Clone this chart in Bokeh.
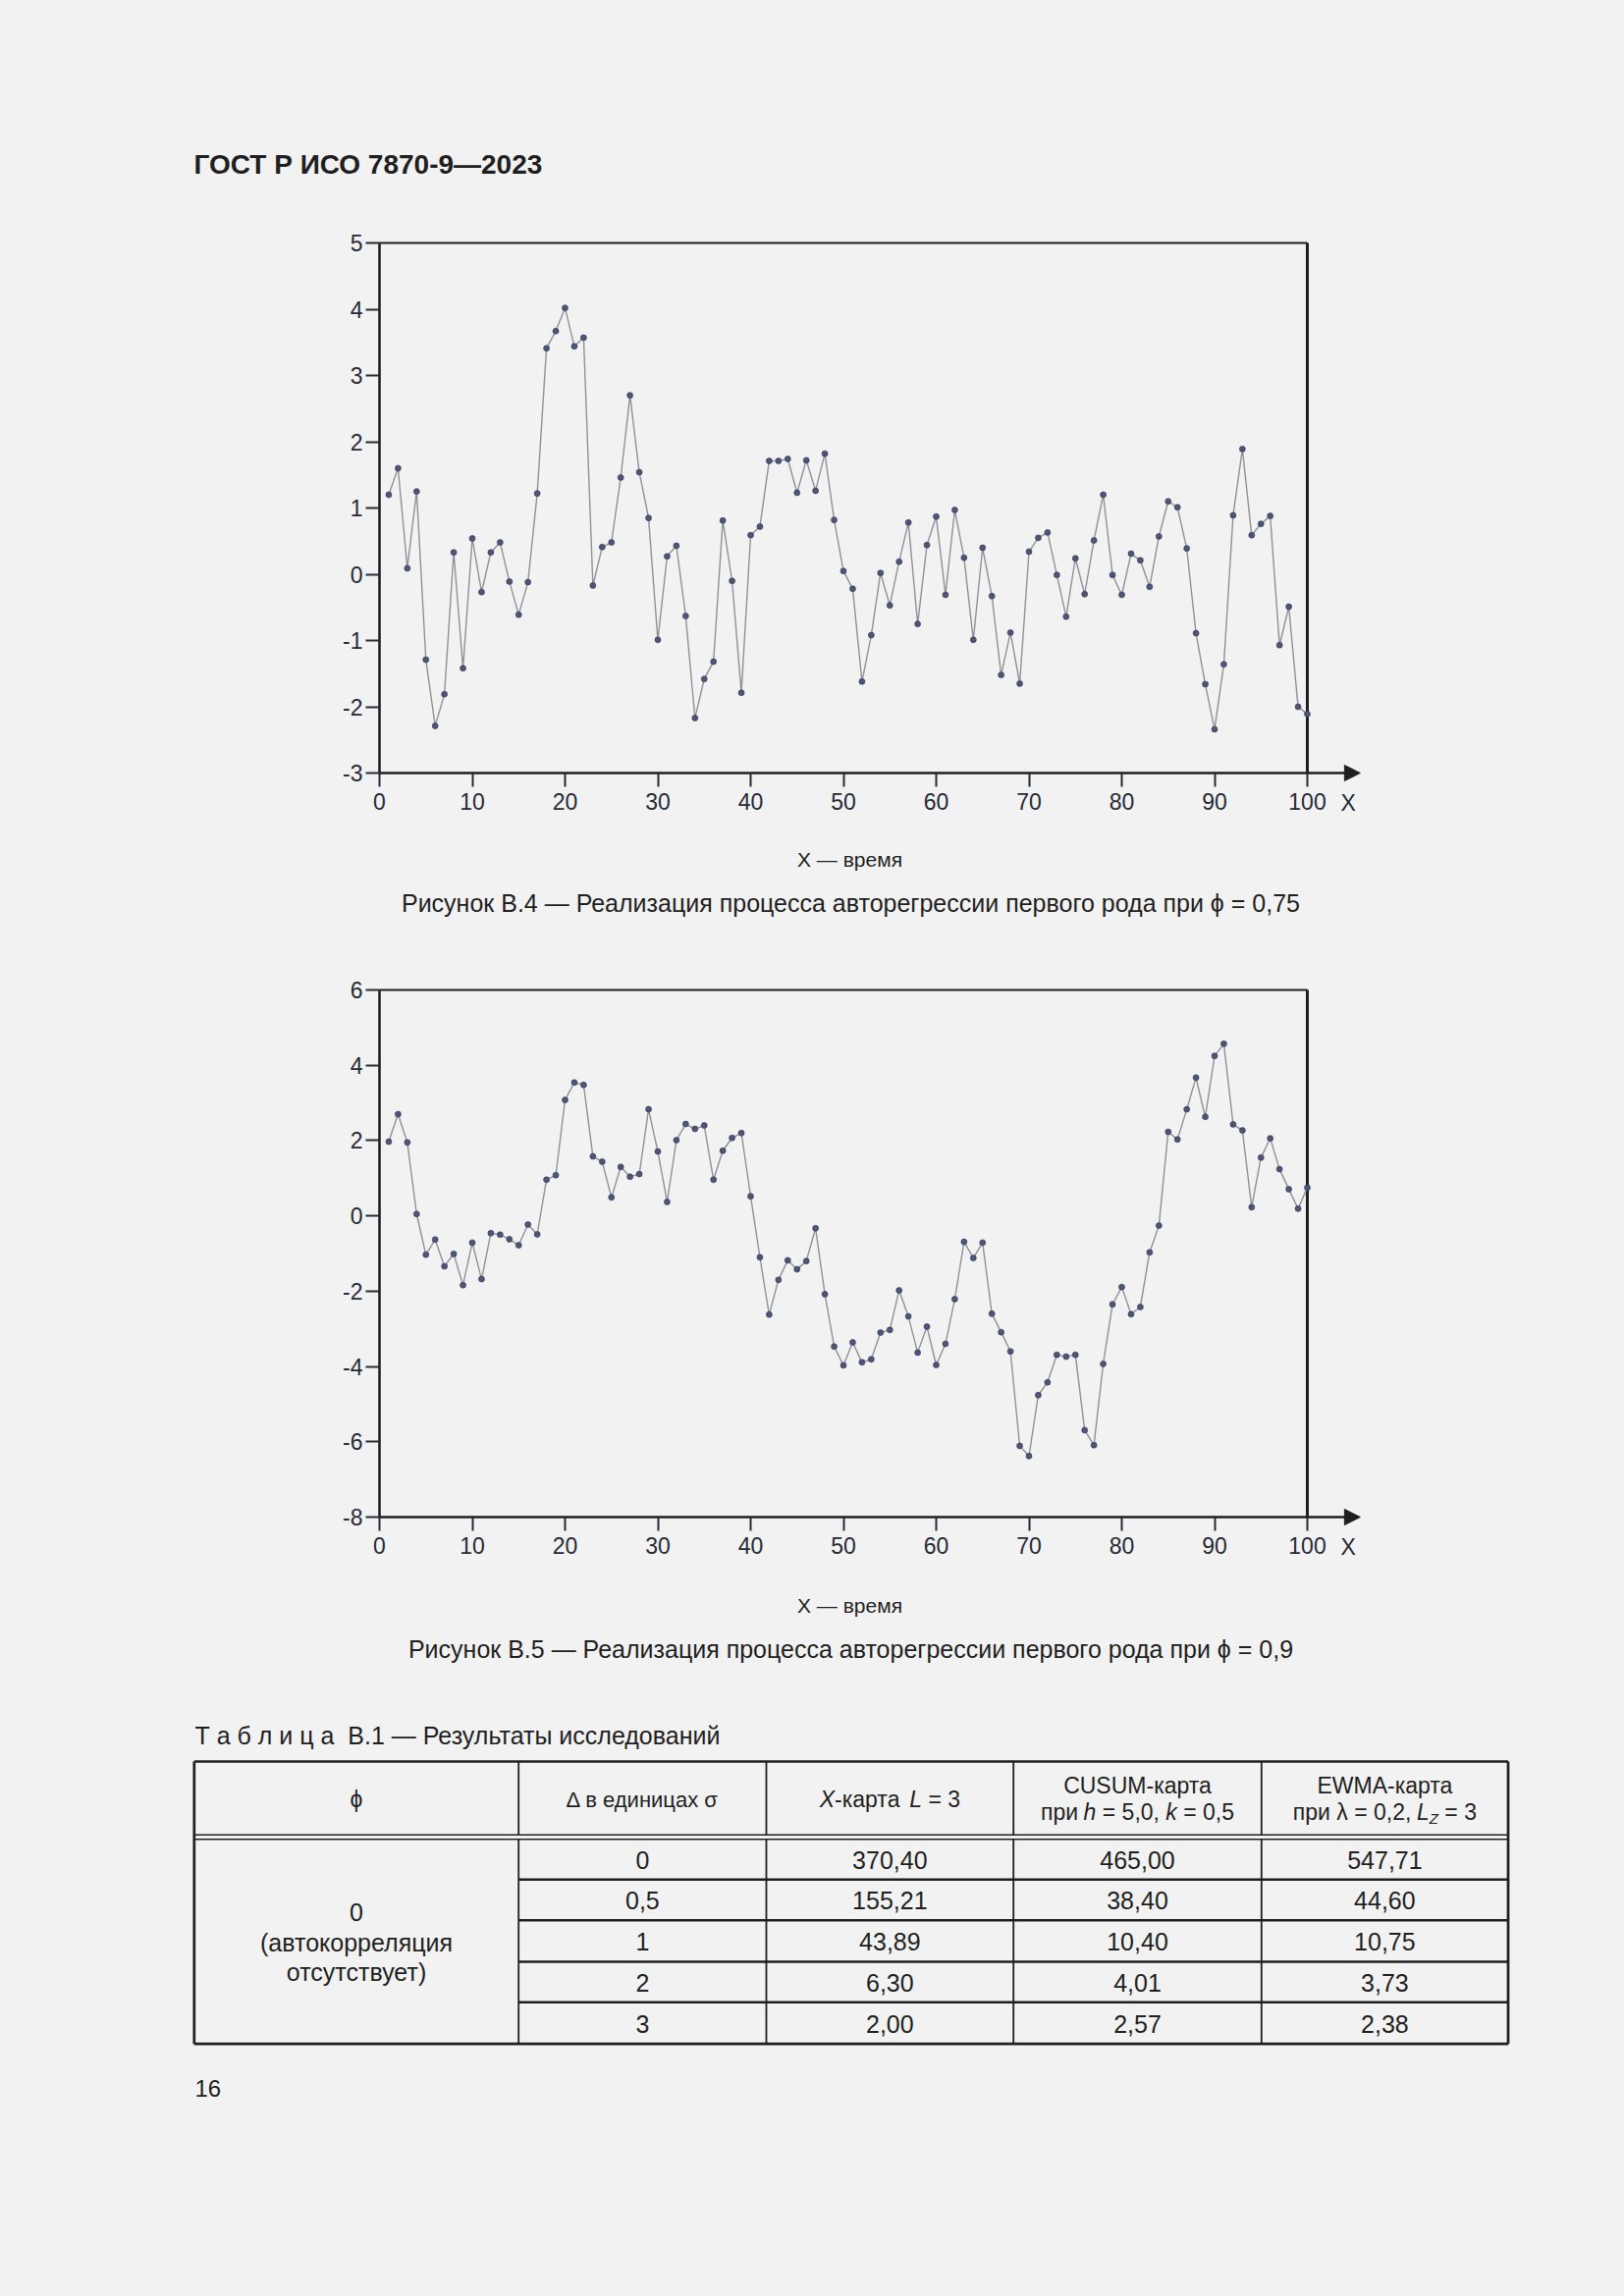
from bokeh.plotting import figure
from bokeh.models import Range1d, FixedTicker, Arrow, NormalHead, Label, LinearAxis
from bokeh.core.properties import value
from bokeh.embed import file_html
from bokeh.resources import INLINE

# ---------------- data ----------------
t_b4 = list(range(1, 101))
ar_075 = [1.20, 1.60, 0.09, 1.25, -1.29, -2.29, -1.81, 0.33, -1.42, 0.54,
          -0.27, 0.33, 0.48, -0.11, -0.61, -0.12, 1.22, 3.41, 3.67, 4.02,
          3.44, 3.57, -0.17, 0.41, 0.48, 1.46, 2.70, 1.54, 0.85, -0.99,
          0.27, 0.43, -0.63, -2.17, -1.58, -1.32, 0.81, -0.10, -1.79, 0.59,
          0.72, 1.71, 1.71, 1.74, 1.23, 1.72, 1.26, 1.82, 0.82, 0.05,
          -0.22, -1.62, -0.92, 0.02, -0.47, 0.19, 0.78, -0.75, 0.44, 0.87,
          -0.31, 0.97, 0.25, -0.99, 0.40, -0.33, -1.52, -0.88, -1.65, 0.34,
          0.55, 0.63, -0.01, -0.64, 0.24, -0.30, 0.51, 1.20, -0.01, -0.31,
          0.31, 0.21, -0.19, 0.57, 1.10, 1.01, 0.39, -0.89, -1.66, -2.34,
          -1.36, 0.89, 1.89, 0.59, 0.76, 0.88, -1.07, -0.49, -2.00, -2.11]

t_b5 = list(range(1, 101))
ar_09 = [1.97, 2.70, 1.95, 0.05, -1.03, -0.63, -1.34, -1.01, -1.84, -0.71,
         -1.68, -0.46, -0.50, -0.62, -0.78, -0.23, -0.49, 0.96, 1.08, 3.08,
         3.54, 3.48, 1.58, 1.44, 0.49, 1.30, 1.04, 1.11, 2.83, 1.71,
         0.37, 2.01, 2.44, 2.31, 2.40, 0.96, 1.73, 2.07, 2.20, 0.52,
         -1.10, -2.62, -1.70, -1.18, -1.42, -1.20, -0.33, -2.08, -3.47, -3.97,
         -3.36, -3.89, -3.81, -3.10, -3.03, -1.98, -2.67, -3.63, -2.94, -3.96,
         -3.40, -2.21, -0.69, -1.12, -0.71, -2.60, -3.09, -3.60, -6.11, -6.38,
         -4.76, -4.42, -3.69, -3.74, -3.69, -5.69, -6.09, -3.93, -2.35, -1.89,
         -2.61, -2.42, -0.97, -0.26, 2.23, 2.03, 2.83, 3.67, 2.63, 4.25,
         4.57, 2.43, 2.27, 0.23, 1.55, 2.06, 1.24, 0.71, 0.19, 0.75]

x_ticks = [0, 10, 20, 30, 40, 50, 60, 70, 80, 90, 100]
y_ticks_b4 = [-3, -2, -1, 0, 1, 2, 3, 4, 5]
y_ticks_b5 = [-8, -6, -4, -2, 0, 2, 4, 6]

header_text = "ГОСТ Р ИСО 7870-9—2023"
x_axis_name = "X — время"
caption_b4 = "Рисунок В.4 — Реализация процесса авторегрессии первого рода при ϕ = 0,75"
caption_b5 = "Рисунок В.5 — Реализация процесса авторегрессии первого рода при ϕ = 0,9"
table_title = "Т а б л и ц а\u00a0\u00a0В.1 — Результаты исследований"
page_number = "16"

phi_cell = ["0", "(автокорреляция", "отсутствует)"]
delta_sigma = ["0", "0,5", "1", "2", "3"]
x_chart_L3 = ["370,40", "155,21", "43,89", "6,30", "2,00"]
cusum_chart = ["465,00", "38,40", "10,40", "4,01", "2,57"]
ewma_chart = ["547,71", "44,60", "10,75", "3,73", "2,38"]

# ---------------- style / layout ----------------
BG = "#f1f2f1"
INK = "#1f1f22"
TICK_INK = "#262a36"
FONT = "Liberation Sans"
W, H = 1650, 2320
NB = "\u00a0"

CW = {' ': 0.278, NB: 0.278, ',': 0.278, '=': 0.584, '-': 0.333, '.': 0.278,
      'X': 0.667, 'L': 0.556, 'h': 0.556, 'k': 0.5, 'Z': 0.611, 'λ': 0.5,
      'C': 0.722, 'U': 0.722, 'S': 0.667, 'M': 0.833, 'E': 0.667, 'W': 0.944, 'A': 0.667}
for d in "0123456789":
    CW[d] = 0.556


def twidth(s, size):
    return sum(CW.get(ch, 0.54) for ch in s) * size


p = figure(frame_width=W, frame_height=H, x_range=Range1d(0, W), y_range=Range1d(H, 0),
           x_axis_type=None, y_axis_type=None, output_backend="svg", toolbar_location=None,
           min_border=0, background_fill_color=BG, border_fill_color=BG, outline_line_color=None)
p.grid.visible = False


def txt(x, y, s, size, align="center", style="normal", color=INK):
    p.text(x=[x], y=[y], text=[s], text_font=value(FONT), text_font_size=f"{size}px",
           text_align=align, text_baseline="middle", text_font_style=style, text_color=color)


def rich(cx, y, segs):
    segs = [(s.replace(" ", NB), st, sz, dy) for s, st, sz, dy in segs]
    total = sum(twidth(s, sz) for s, st, sz, dy in segs)
    x = cx - total / 2
    for s, st, sz, dy in segs:
        txt(x, y + dy, s, sz, align="left", style=st)
        x += twidth(s, sz)


# chart frames in page pixels
FX0, FX1 = 386.0, 1331.0
TICK_FS = "23px"


def chart(name, xs, ys, ylo, yhi, yticks, top_px, bot_px):
    kx = (FX1 - FX0) / 100.0
    ky = (bot_px - top_px) / (yhi - ylo)
    p.extra_x_ranges[name + "x"] = Range1d(-FX0 / kx, (W - FX0) / kx)
    p.extra_y_ranges[name + "y"] = Range1d(yhi - (H - top_px) / ky, yhi + top_px / ky)
    rn = dict(x_range_name=name + "x", y_range_name=name + "y")

    xaxis = LinearAxis(fixed_location=ylo, bounds=(0, 100), ticker=FixedTicker(ticks=x_ticks), **rn)
    yaxis = LinearAxis(fixed_location=0, bounds=(ylo, yhi), ticker=FixedTicker(ticks=yticks), **rn)
    for ax, ticks in ((xaxis, x_ticks), (yaxis, yticks)):
        ax.major_label_overrides = {t: str(t) for t in ticks}
        ax.minor_tick_line_color = None
        ax.major_tick_in = 0
        ax.major_tick_out = 14
        ax.major_tick_line_width = 2
        ax.major_tick_line_color = TICK_INK
        ax.axis_line_width = 2.6
        ax.axis_line_color = INK
        ax.major_label_text_font = FONT
        ax.major_label_text_font_size = TICK_FS
        ax.major_label_text_color = TICK_INK
    xaxis.major_label_standoff = 6
    yaxis.major_label_standoff = 3
    p.add_layout(xaxis, "below")
    p.add_layout(yaxis, "left")

    # frame: top and right edges
    p.segment(x0=[0], y0=[yhi], x1=[100], y1=[yhi], line_color=INK, line_width=1.8, **rn)
    p.segment(x0=[100], y0=[ylo], x1=[100], y1=[yhi], line_color=INK, line_width=3, **rn)

    p.line(xs, ys, line_color="#8f9197", line_width=1.4, **rn)
    p.scatter(xs, ys, size=6, fill_color="#4d5679", line_color="#2f3452", line_width=0.6, **rn)

    p.add_layout(Arrow(end=NormalHead(size=16, fill_color=INK, line_color=INK),
                       x_start=100, y_start=ylo, x_end=105.7, y_end=ylo,
                       line_color=INK, line_width=2.6, **rn))
    p.add_layout(Label(x=104.4, y=ylo, text="X", y_offset=-30, text_align="center",
                       text_baseline="middle", text_font=FONT, text_font_size=TICK_FS,
                       text_color=TICK_INK, **rn))


# ---------------- header ----------------
txt(197, 167, header_text, 28, align="left", style="bold")

# ---------------- chart B.4 ----------------
chart("b4", t_b4, ar_075, -3, 5, y_ticks_b4, 247.0, 787.0)
txt(865, 875, x_axis_name, 21)
txt(866, 919, caption_b4, 25)

# ---------------- chart B.5 ----------------
chart("b5", t_b5, ar_09, -8, 6, y_ticks_b5, 1008.0, 1545.0)
txt(865, 1635, x_axis_name, 21)
txt(866, 1679, caption_b5, 25)

# ---------------- table ----------------
txt(198, 1767, table_title, 25, align="left")

cols = [197.3, 527.7, 780.0, 1031.7, 1284.3, 1535.5]
top_y, dbl1, dbl2 = 1794.0, 1868.7, 1873.3
rows = [1873.3, 1914.3, 1955.7, 1998.0, 2039.3, 2081.7]


def seg(x0, y0, x1, y1, w):
    p.segment(x0=x0, y0=y0, x1=x1, y1=y1, line_color=INK, line_width=w)


seg([cols[0], cols[0], cols[0], cols[5]], [top_y, rows[-1], top_y, top_y],
    [cols[5], cols[5], cols[0], cols[5]], [top_y, rows[-1], rows[-1], rows[-1]], 2.7)
seg([cols[0], cols[0]], [dbl1, dbl2], [cols[5], cols[5]], [dbl1, dbl2], 1.4)
inner = rows[1:-1]
seg([cols[1]] * len(inner), inner, [cols[5]] * len(inner), inner, 2.4)
vx = cols[1:5]
seg(vx, [top_y] * 4, vx, [dbl1] * 4, 1.8)
seg(vx, [dbl2] * 4, vx, [rows[-1]] * 4, 1.8)

centers = [(cols[i] + cols[i + 1]) / 2 for i in range(5)]
HS = 23
h_single, h_l1, h_l2 = 1832.7, 1818.5, 1845.5
txt(centers[0], h_single, "ϕ", HS)
txt(centers[1], h_single, "Δ в единицах σ", HS - 1)
rich(centers[2], h_single, [("X", "italic", HS, 0), ("-карта ", "normal", HS, 0),
                            ("L", "italic", HS, 0), (" = 3", "normal", HS, 0)])
txt(centers[3], h_l1, "CUSUM-карта", HS)
rich(centers[3], h_l2, [("при ", "normal", HS, 0), ("h", "italic", HS, 0),
                        (" = 5,0, ", "normal", HS, 0), ("k", "italic", HS, 0),
                        (" = 0,5", "normal", HS, 0)])
txt(centers[4], h_l1, "EWMA-карта", HS)
rich(centers[4], h_l2, [("при λ = 0,2, ", "normal", HS, 0), ("L", "italic", HS, 0),
                        ("Z", "italic", 15, 6), (" = 3", "normal", HS, 0)])

VS = 25
row_mid = [(rows[i] + rows[i + 1]) / 2 + 0.5 for i in range(5)]
for col_idx, vals in ((1, delta_sigma), (2, x_chart_L3), (3, cusum_chart), (4, ewma_chart)):
    p.text(x=[centers[col_idx]] * len(vals), y=row_mid, text=vals, text_font=value(FONT),
           text_font_size=f"{VS}px", text_align="center", text_baseline="middle", text_color=INK)
p.text(x=[centers[0]] * 3, y=[1947, 1978, 2008.5], text=phi_cell,
       text_font=value(FONT), text_font_size=f"{VS}px", text_align="center",
       text_baseline="middle", text_color=INK)

txt(198, 2127, page_number, 24, align="left")

html = file_html(p, INLINE, title="ГОСТ Р ИСО 7870-9—2023")
html = html.replace("</head>", f"<style>html,body{{background-color:{BG};margin:0;padding:0;}}</style></head>", 1)
open("out.html", "w").write(html)
